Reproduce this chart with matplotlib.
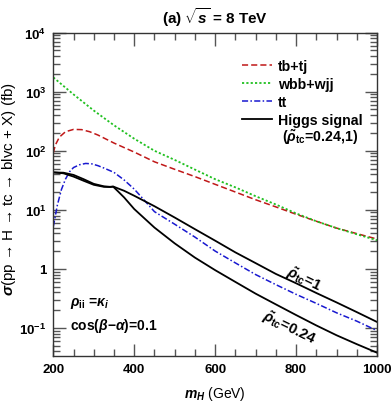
import numpy as np
import matplotlib
matplotlib.use('Agg')
import matplotlib.pyplot as plt
from matplotlib.ticker import FixedLocator, LogLocator, NullFormatter, MultipleLocator

plt.rcParams['font.family'] = ['Liberation Sans', 'DejaVu Sans']
plt.rcParams['font.weight'] = 'bold'
plt.rcParams['mathtext.fontset'] = 'custom'
plt.rcParams['mathtext.rm'] = 'Liberation Sans:bold'
plt.rcParams['mathtext.it'] = 'Liberation Sans:italic:bold'
plt.rcParams['mathtext.bf'] = 'Liberation Sans:bold'

# tb + tj background
m_tb = [200, 205, 215, 230, 250, 270, 290, 310, 330, 350, 400, 450, 500, 550,
        600, 650, 700, 750, 800, 850, 900, 950, 1000]
s_tb = [92, 125, 170, 210, 230, 228, 210, 185, 158, 135, 95, 65, 48.5, 36.5,
        27, 20, 14.8, 11.2, 8.4, 6.4, 4.9, 3.95, 3.2]

# wbb + wjj background
m_wbb = [200, 250, 300, 350, 400, 450, 500, 550, 600, 650, 700, 750, 800,
         850, 900, 950, 1000]
s_wbb = [1750, 900, 480, 270, 160, 100, 70, 48, 33, 24, 17, 12.3, 8.7,
         6.4, 4.9, 3.85, 3.05]

# tt background
m_tt = [200, 210, 220, 230, 240, 250, 265, 280, 295, 310, 325, 350, 375, 400,
        425, 450, 500, 550, 600, 650, 700, 750, 800, 850, 900, 950, 1000]
s_tt = [5.2, 12, 22, 33, 44, 52, 58, 61, 60, 56, 51, 43, 32, 22.4,
        14.5, 9.3, 5.7, 3.45, 2.0, 1.26, 0.80, 0.54, 0.37, 0.26, 0.18, 0.13, 0.09]

# Higgs signal, rho_tc = 1 and rho_tc = 0.24
m_sig = [200, 225, 250, 275, 300, 325, 340, 348, 360, 375, 400, 450, 500, 550,
         600, 650, 700, 750, 800, 850, 900, 950, 1000]
s_sig1 = [43, 42.5, 39, 33, 27.5, 25, 24.5, 24.8, 23, 21, 17.3, 11.5, 7.4, 4.7,
          3.0, 1.9, 1.25, 0.82, 0.57, 0.39, 0.27, 0.185, 0.126]
s_sig024 = [43, 41.5, 36.5, 31, 26.5, 24.5, 24.3, 24.6, 20.5, 16.2, 10.3, 5.0, 2.7, 1.55,
            0.95, 0.6, 0.38, 0.25, 0.165, 0.11, 0.075, 0.053, 0.038]

fig = plt.figure(figsize=(3.92, 4.02), dpi=100)
ax = fig.add_axes([0.136, 0.1112, 0.8257, 0.805])

ax.plot(m_tb, s_tb, color='#c01818', ls=(0, (4, 2)), lw=1.1, label='tb+tj')
ax.plot(m_wbb, s_wbb, color='#20c020', ls=(0, (1.2, 1.2)), lw=1.3, label='wbb+wjj')
ax.plot(m_tt, s_tt, color='#1818d0', ls=(0, (4, 1.5, 1, 1.5)), lw=1.1, label='tt')
ax.plot(m_sig, s_sig1, color='black', lw=1.3, label='Higgs signal')
ax.plot(m_sig, s_sig024, color='black', lw=1.3)

ax.set_yscale('log')
ax.set_xlim(200, 1000)
ax.set_ylim(0.033, 1e4)

ax.xaxis.set_major_locator(MultipleLocator(200))
ax.xaxis.set_minor_locator(MultipleLocator(50))
ax.yaxis.set_major_locator(FixedLocator([1e-1, 1, 1e1, 1e2, 1e3, 1e4]))
ax.set_yticklabels([r'$\mathbf{10^{-1}}$', '1', r'$\mathbf{10^{1}}$',
                    r'$\mathbf{10^{2}}$', r'$\mathbf{10^{3}}$', r'$\mathbf{10^{4}}$'])
ax.yaxis.set_minor_locator(LogLocator(base=10, subs=np.arange(2, 10), numticks=20))
ax.yaxis.set_minor_formatter(NullFormatter())

ax.tick_params(which='both', direction='in', top=True, right=True,
               color='#555555', labelsize=9.5)
ax.tick_params(which='major', length=9, width=1, pad=5)
ax.tick_params(which='minor', length=5, width=1)
for s in ax.spines.values():
    s.set_linewidth(1)
    s.set_color('#333333')

ax.set_xlabel(r'$m_H$ (GeV)', fontsize=10, labelpad=6)
ax.set_ylabel(r'$\sigma$(pp → H → tc → blvc + X) (fb)', fontsize=11)
ax.yaxis.set_label_coords(-0.108, 0.52)
ax.set_title(r'(a) $\sqrt{s}$ = 8 TeV', fontsize=11, fontweight='bold', pad=7)

leg = ax.legend(loc='upper left', bbox_to_anchor=(0.583, 0.92), frameon=False,
                fontsize=10.2, handlelength=2.1, handletextpad=0.42,
                labelspacing=0.3, borderpad=0, borderaxespad=0)
ax.text(0.706, 0.68, r'($\tilde{\rho}_{\rm tc}$=0.24,1)', transform=ax.transAxes,
        fontsize=10.2, va='center', ha='left')

ax.text(0.053, 0.167, r'$\rho_{\rm ii}$ =$\kappa_i$', transform=ax.transAxes,
        fontsize=10, va='center', ha='left')
ax.text(0.053, 0.098, r'cos($\beta$−$\alpha$)=0.1', transform=ax.transAxes,
        fontsize=10, va='center', ha='left')

ax.text(0.775, 0.24, r'$\tilde{\rho}_{\rm tc}$=1', transform=ax.transAxes,
        fontsize=10.5, rotation=-26, ha='center', va='center', rotation_mode='anchor')
ax.text(0.73, 0.089, r'$\tilde{\rho}_{\rm tc}$=0.24', transform=ax.transAxes,
        fontsize=10.5, rotation=-26, ha='center', va='center', rotation_mode='anchor')

fig.savefig('out.png', dpi=100)
